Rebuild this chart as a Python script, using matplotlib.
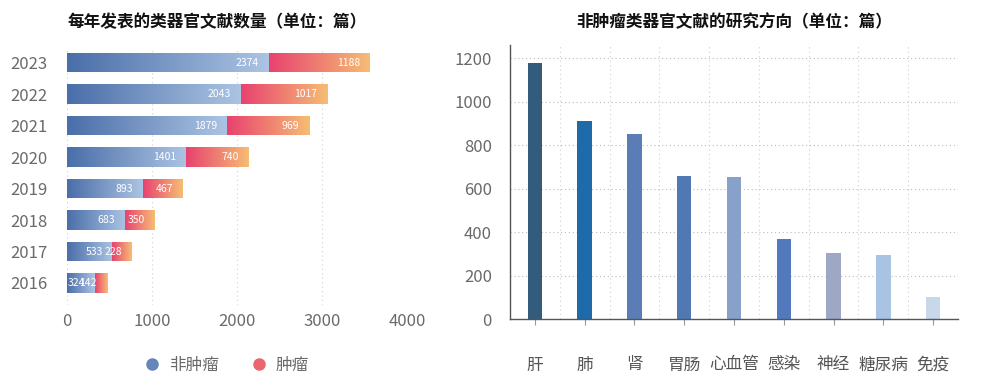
import numpy as np
import matplotlib
matplotlib.use("Agg")
import matplotlib.pyplot as plt
from matplotlib.colors import LinearSegmentedColormap
from matplotlib.lines import Line2D

plt.rcParams['font.family'] = ['Noto Sans CJK SC', 'DejaVu Sans']

# left chart: papers per year
years = ["2023", "2022", "2021", "2020", "2019", "2018", "2017", "2016"]
non_tumor = [2374, 2043, 1879, 1401, 893, 683, 533, 324]
tumor = [1188, 1017, 969, 740, 467, 350, 228, 142]

# right chart: research directions of non-tumor organoid papers
directions = ["肝", "肺", "肾", "胃肠", "心血管", "感染", "神经", "糖尿病", "免疫"]
direction_counts = [1175, 912, 852, 657, 651, 368, 305, 294, 103]
direction_colors = ["#335b7c", "#1f6aa8", "#5a7db6", "#5079b3", "#87a1cb",
                    "#5279bb", "#9ea8c4", "#a9c4e2", "#c9d7ea"]

blue_cmap = LinearSegmentedColormap.from_list("blue", ["#4a6ea9", "#acc4e3"])
red_cmap = LinearSegmentedColormap.from_list("red", ["#e8426f", "#f6bd74"])
grad = np.linspace(0, 1, 256).reshape(1, -1)

tick_gray = "#6a6a6a"
grid_gray = "#d0d0d0"

fig = plt.figure(figsize=(9.83, 3.88), dpi=100)

# ---- left: stacked horizontal bars with gradients ----
ax1 = fig.add_axes([67 / 983, 1 - 305 / 388, 340 / 983, 258 / 388])
ypos = np.arange(len(years))
h = 0.62


def gradient_bars(ax, left, width, cmap):
    bars = ax.barh(ypos, width, left=left, height=h, color="none", edgecolor="none")
    for b in bars:
        x0, y0 = b.get_x(), b.get_y()
        im = ax.imshow(grad, extent=[x0, x0 + b.get_width(), y0, y0 + b.get_height()],
                       cmap=cmap, aspect="auto", interpolation="bicubic", zorder=2)
        im.set_clip_path(b)
    return bars


gradient_bars(ax1, 0, non_tumor, blue_cmap)
gradient_bars(ax1, non_tumor, tumor, red_cmap)

for i, (a, b) in enumerate(zip(non_tumor, tumor)):
    ax1.annotate(str(a), (a, i), xytext=(-7, 0), textcoords="offset points",
                 ha="right", va="center", color="white", fontsize=7.5, zorder=3)
    ax1.annotate(str(b), (a + b, i), xytext=(-7, 0), textcoords="offset points",
                 ha="right", va="center", color="white", fontsize=7.5, zorder=3)

ax1.set_xlim(0, 4000)
ax1.set_ylim(7.7, -0.5)
ax1.set_xticks([0, 1000, 2000, 3000, 4000])
ax1.set_yticks(ypos)
ax1.set_yticklabels(years)
ax1.tick_params(length=0, colors=tick_gray, labelsize=12)
ax1.tick_params(axis="y", pad=14)
ax1.tick_params(axis="x", pad=6)
for s in ax1.spines.values():
    s.set_visible(False)
ax1.grid(axis="x", linestyle=(0, (1, 3)), color=grid_gray, linewidth=0.8)
ax1.set_axisbelow(True)

fig.text(68 / 983, 1 - 22 / 388, "每年发表的类器官文献数量（单位：篇）",
         fontsize=12, fontweight="bold", va="center", ha="left", color="#111111")

handles = [Line2D([], [], marker="o", linestyle="none", markersize=8, color="#6585bb"),
           Line2D([], [], marker="o", linestyle="none", markersize=8, color="#ec6670")]
fig.legend(handles, ["非肿瘤", "肿瘤"], loc="center", bbox_to_anchor=(222 / 983, 1 - 365 / 388),
           ncol=2, frameon=False, fontsize=12, handletextpad=0.0, columnspacing=1.4,
           labelcolor=tick_gray)

# ---- right: vertical bars ----
ax2 = fig.add_axes([510 / 983, 1 - 319 / 388, 448 / 983, 274 / 388])
xpos = np.arange(len(directions))
ax2.bar(xpos, direction_counts, width=0.29, color=direction_colors, zorder=2)
ax2.set_xlim(-0.5, len(directions) - 0.5)
ax2.set_ylim(0, 1260)
ax2.set_yticks([0, 200, 400, 600, 800, 1000, 1200])
ax2.set_xticks(xpos)
ax2.set_xticklabels(directions)
ax2.set_xticks(xpos[:-1] + 0.5, minor=True)
ax2.tick_params(axis="y", length=0, colors=tick_gray, labelsize=12, pad=13)
ax2.tick_params(axis="x", which="major", length=4, color="#999999", labelcolor="#555555",
                labelsize=12, pad=23)
ax2.tick_params(axis="x", which="minor", length=0)
ax2.grid(axis="y", linestyle=(0, (1, 2.5)), color="#bbbbbb", linewidth=0.8)
ax2.grid(axis="x", which="minor", linestyle=(0, (1, 3)), color=grid_gray, linewidth=0.8)
ax2.axvline(len(directions) - 0.5, linestyle=(0, (1, 3)), color=grid_gray, linewidth=0.8)
ax2.set_axisbelow(True)
ax2.spines["top"].set_visible(False)
ax2.spines["right"].set_visible(False)
for s in ("left", "bottom"):
    ax2.spines[s].set_color("#555555")
    ax2.spines[s].set_linewidth(1.0)

fig.text(734 / 983, 1 - 22 / 388, "非肿瘤类器官文献的研究方向（单位：篇）",
         fontsize=12, fontweight="bold", va="center", ha="center", color="#111111")

fig.savefig("out.png", dpi=100)
